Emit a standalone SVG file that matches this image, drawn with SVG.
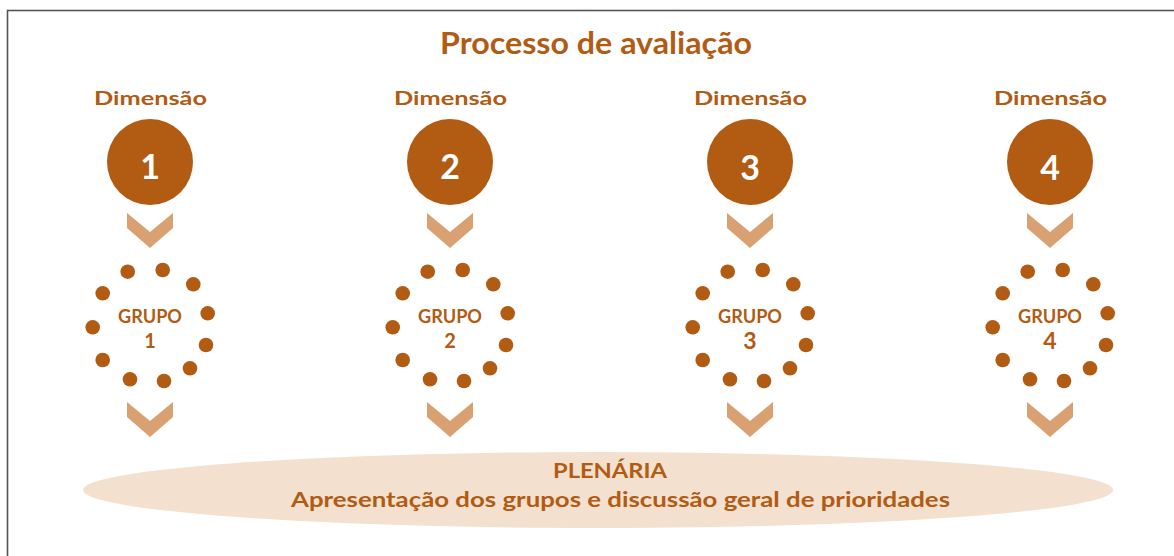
<svg xmlns="http://www.w3.org/2000/svg" width="1174" height="556" viewBox="0 0 1174 556">
<style>
.t{font-family:Lato,"Open Sans","Liberation Sans",sans-serif;font-weight:bold;fill:#B15B13;text-anchor:middle}
.num{font-family:Lato,"Open Sans","Liberation Sans",sans-serif;font-weight:bold;fill:#FFFFFF;text-anchor:middle;font-size:34px}
.circ{fill:#B15B13}
.dot{fill:#B15B13}
.chev{fill:#D9A072}
</style>
<defs>
<path id="chev" d="M-23,0 L0,19 L23,0 L23,15 L0,35 L-23,15 Z"/>
<g id="dots">
<circle cx="-22.3" cy="-53.3" r="7.3"/>
<circle cx="12.7" cy="-55" r="7.3"/>
<circle cx="43.3" cy="-40.7" r="7.3"/>
<circle cx="57.7" cy="-11.7" r="7.3"/>
<circle cx="56" cy="20" r="7.3"/>
<circle cx="40" cy="43.3" r="7.3"/>
<circle cx="14" cy="56" r="7.3"/>
<circle cx="-20" cy="54.3" r="7.3"/>
<circle cx="-47.3" cy="35" r="7.3"/>
<circle cx="-57.3" cy="2.3" r="7.3"/>
<circle cx="-47.3" cy="-31.7" r="7.3"/>
</g>
</defs>
<rect x="7.5" y="10.5" width="1180" height="560" fill="#FFFFFF" stroke="#555555" stroke-width="1.6"/>
<g id="title">
<text class="t" x="596" y="54" font-size="29.5" textLength="312" lengthAdjust="spacingAndGlyphs">Processo de avaliação</text>
</g>
<g id="plenaria">
<ellipse cx="598" cy="490" rx="515" ry="38" fill="#F4E0CE"/>
<text class="t" x="610" y="478" font-size="21" textLength="114" lengthAdjust="spacingAndGlyphs">PLENÁRIA</text>
<text class="t" x="620.5" y="507" font-size="21" textLength="659" lengthAdjust="spacingAndGlyphs">Apresentação dos grupos e discussão geral de prioridades</text>
</g>
<g id="dimensao1">
<text class="t" x="150.5" y="105" font-size="19.5" textLength="113" lengthAdjust="spacingAndGlyphs">Dimensão</text>
<circle class="circ" cx="150" cy="162" r="43"/>
<text class="num" x="150" y="179">1</text>
</g>
<g id="dimensao2">
<text class="t" x="450.5" y="105" font-size="19.5" textLength="113" lengthAdjust="spacingAndGlyphs">Dimensão</text>
<circle class="circ" cx="450" cy="162" r="43"/>
<text class="num" x="450" y="179">2</text>
</g>
<g id="dimensao3">
<text class="t" x="750.5" y="105" font-size="19.5" textLength="113" lengthAdjust="spacingAndGlyphs">Dimensão</text>
<circle class="circ" cx="750" cy="162" r="43"/>
<text class="num" x="750" y="180" font-size="37">3</text>
</g>
<g id="dimensao4">
<text class="t" x="1050.5" y="105" font-size="19.5" textLength="113" lengthAdjust="spacingAndGlyphs">Dimensão</text>
<circle class="circ" cx="1050" cy="162" r="43"/>
<text class="num" x="1050" y="180" font-size="37">4</text>
</g>
<g id="grupo1">
<use href="#dots" x="150" y="325" class="dot"/>
<text class="t" x="150" y="323" font-size="18" textLength="64" lengthAdjust="spacingAndGlyphs">GRUPO</text>
<text class="t" x="150" y="348" font-size="20">1</text>
</g>
<g id="grupo2">
<use href="#dots" x="450" y="325" class="dot"/>
<text class="t" x="450" y="323" font-size="18" textLength="64" lengthAdjust="spacingAndGlyphs">GRUPO</text>
<text class="t" x="450" y="348" font-size="20">2</text>
</g>
<g id="grupo3">
<use href="#dots" x="750" y="325" class="dot"/>
<text class="t" x="750" y="323" font-size="18" textLength="64" lengthAdjust="spacingAndGlyphs">GRUPO</text>
<text class="t" x="750" y="349" font-size="23" font-weight="normal">3</text>
</g>
<g id="grupo4">
<use href="#dots" x="1050" y="325" class="dot"/>
<text class="t" x="1050" y="323" font-size="18" textLength="64" lengthAdjust="spacingAndGlyphs">GRUPO</text>
<text class="t" x="1050" y="349" font-size="23" font-weight="normal">4</text>
</g>
<g id="connectors">
<use href="#chev" class="chev" x="150" y="213"/>
<use href="#chev" class="chev" x="450" y="213"/>
<use href="#chev" class="chev" x="750" y="213"/>
<use href="#chev" class="chev" x="1050" y="213"/>
<use href="#chev" class="chev" x="150" y="402"/>
<use href="#chev" class="chev" x="450" y="402"/>
<use href="#chev" class="chev" x="750" y="402"/>
<use href="#chev" class="chev" x="1050" y="402"/>
</g>
</svg>
